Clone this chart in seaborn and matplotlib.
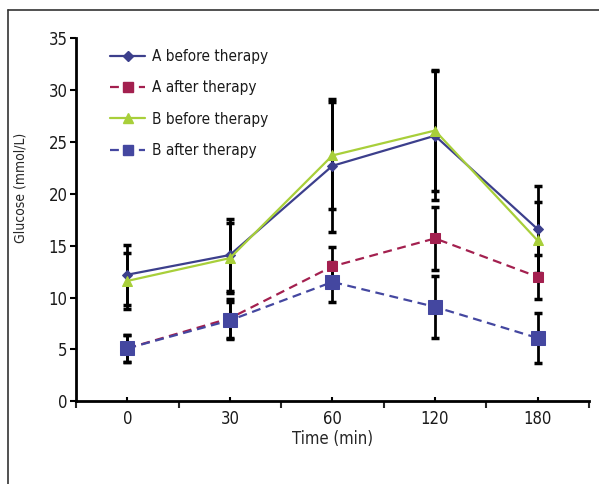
import numpy as np
import pandas as pd
import matplotlib
matplotlib.use("Agg")
import matplotlib.pyplot as plt
from matplotlib.lines import Line2D
import seaborn as sns

# time points (categorical on the x axis)
times = ["0", "30", "60", "120", "180"]

# mean glucose (mmol/L)
a_before = [12.2, 14.1, 22.7, 25.6, 16.6]
a_after = [5.1, 8.0, 13.0, 15.7, 12.0]
b_before = [11.6, 13.8, 23.7, 26.1, 15.5]
b_after = [5.1, 7.8, 11.5, 9.1, 6.1]

# error bar half widths
a_before_err = [2.9, 3.5, 6.4, 6.2, 4.2]
a_after_err = [1.3, 1.9, 1.9, 3.0, 2.1]
b_before_err = [2.7, 3.4, 5.2, 5.8, 3.7]
b_after_err = [1.3, 1.8, 1.9, 3.0, 2.4]

names = ["A before therapy", "A after therapy", "B before therapy", "B after therapy"]
means = [a_before, a_after, b_before, b_after]
errs = [a_before_err, a_after_err, b_before_err, b_after_err]

colors = ["#3c3f8c", "#a3204f", "#a8cf3a", "#4447a0"]
markers = ["D", "s", "^", "s"]
msizes = [5, 7, 7, 10]
dashed = [False, True, False, True]

sns.set_style("white")
plt.rcParams["font.family"] = ["DejaVu Sans", "Liberation Sans"]
plt.rcParams["font.stretch"] = "condensed"
plt.rcParams["text.color"] = "#1a1a1a"

fig = plt.figure(figsize=(5.99, 4.84), dpi=100)
ax = fig.add_axes([0.127, 0.171, 0.856, 0.750])

# frame around the figure (top and left only)
fig.add_artist(Line2D([0.013, 1.0], [0.979, 0.979], color="#333333", lw=1.2))
fig.add_artist(Line2D([0.013, 0.013], [0.0, 0.979], color="#333333", lw=1.2))

xpos = np.arange(len(times))

# error bars first (black, with caps)
for m, e in zip(means, errs):
    ax.errorbar(xpos, m, yerr=e, fmt="none", ecolor="black", elinewidth=2,
                capsize=3, capthick=2.5, zorder=2)

handles = []
for name, m, c, mk, ms, d in zip(names, means, colors, markers, msizes, dashed):
    df = pd.DataFrame({"x": xpos, "y": m})
    ls = (0, (4, 2.5)) if d else "-"
    sns.lineplot(data=df, x="x", y="y", ax=ax, color=c, marker=mk, markersize=ms,
                 markeredgecolor=c, linewidth=1.6, zorder=3, linestyle=ls)
    handles.append(Line2D([], [], color=c, marker=mk, markersize=min(ms, 7),
                          markeredgecolor=c, lw=1.6, linestyle=ls))

ax.set_xlim(-0.5, 4.5)
ax.set_ylim(0, 35)
ax.set_yticks(range(0, 36, 5))
ax.set_xticks(xpos)
ax.set_xticklabels(times)
ax.set_xticks(np.arange(-0.5, 4.6, 1.0), minor=True)

for s in ["top", "right"]:
    ax.spines[s].set_visible(False)
for s in ["left", "bottom"]:
    ax.spines[s].set_color("black")
    ax.spines[s].set_linewidth(2)

ax.tick_params(axis="y", which="major", direction="out", length=4, width=1.5,
               labelsize=12, left=True, pad=2, colors="black",
               labelcolor="#1a1a1a")
ax.tick_params(axis="x", which="major", direction="in", length=3, width=1.5,
               labelsize=12, bottom=True, pad=6, colors="black",
               labelcolor="#1a1a1a")
ax.tick_params(axis="x", which="minor", direction="out", length=5, width=1.5,
               bottom=True)

ax.set_xlabel("Time (min)", fontsize=12, labelpad=2)
ax.set_ylabel("Glucose (mmol/L)", fontsize=10)
ax.yaxis.set_label_coords(-0.095, 0.587)

ax.legend(handles, names, loc="upper left", bbox_to_anchor=(0.04, 1.008),
          frameon=False, fontsize=11, handlelength=2.3, labelspacing=1.07,
          handletextpad=0.4)

fig.savefig("out.png", dpi=100)
